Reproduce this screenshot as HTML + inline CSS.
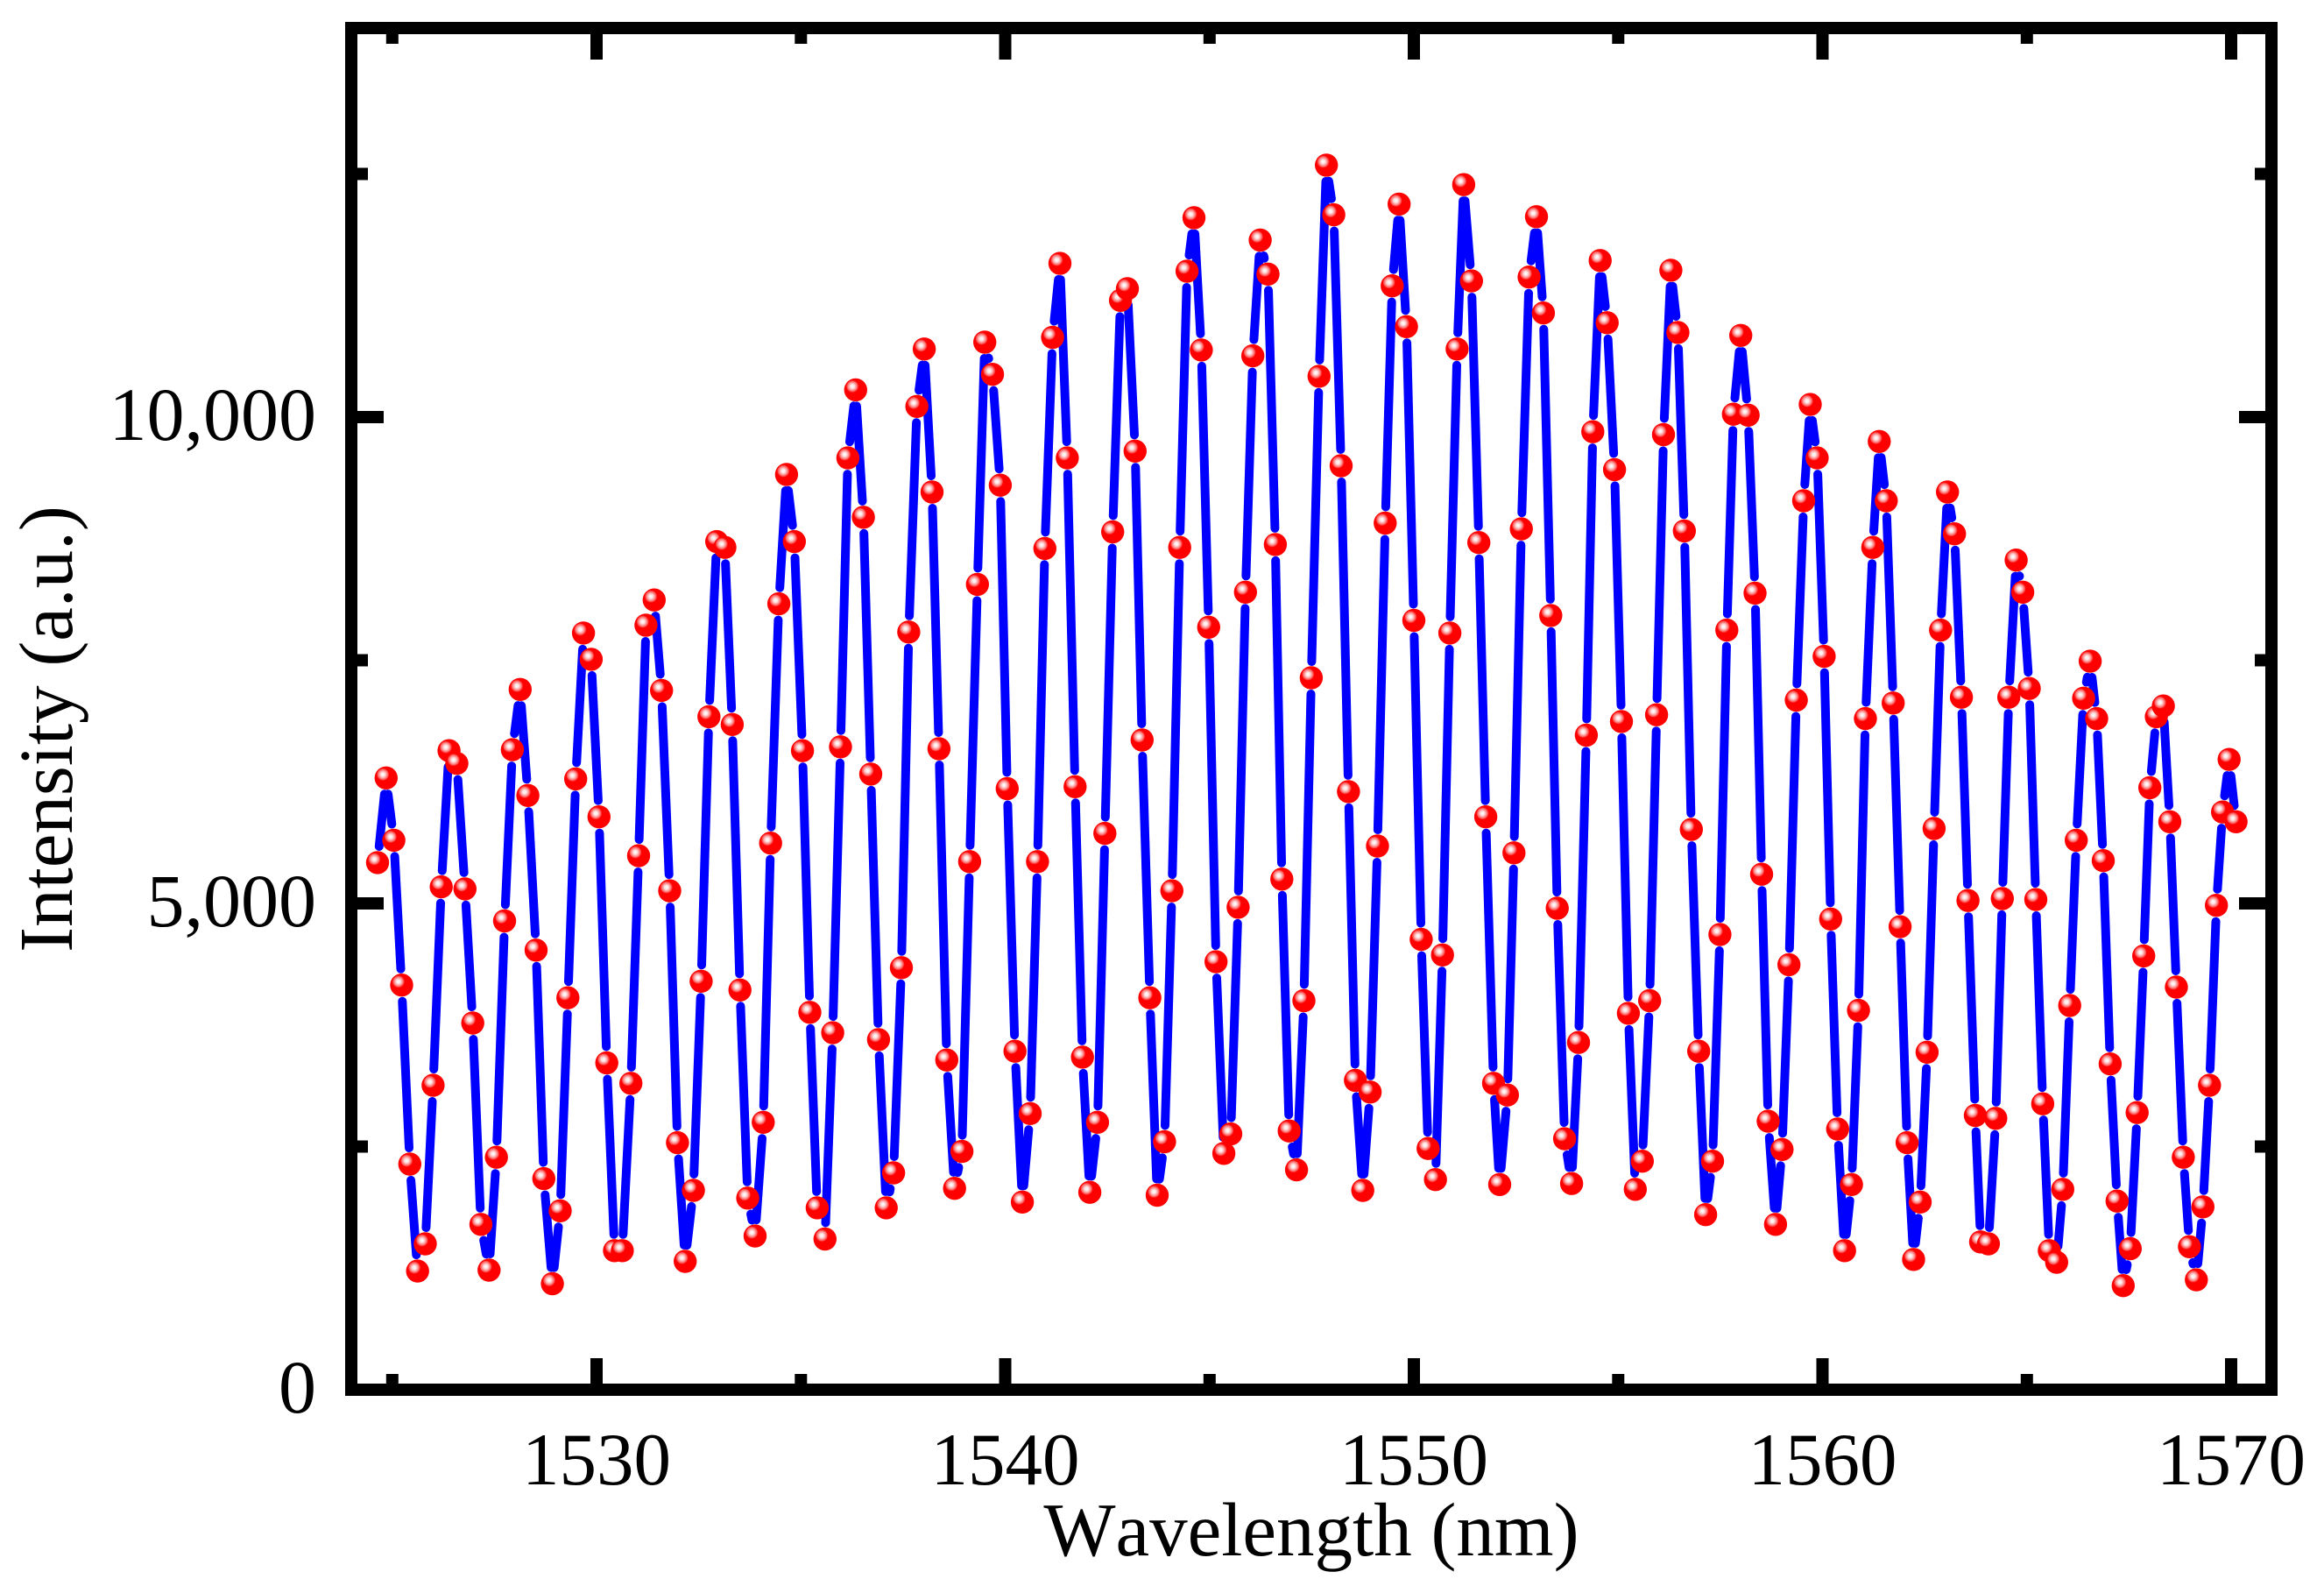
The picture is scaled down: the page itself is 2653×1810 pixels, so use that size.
<!DOCTYPE html>
<html>
<head>
<meta charset="utf-8">
<title>Intensity vs Wavelength</title>
<style>
html,body{margin:0;padding:0;background:#fff;}
svg{display:block;}
text{font-family:"Liberation Serif","Times New Roman",serif;fill:#000;font-kerning:none;}
</style>
</head>
<body>
<svg id="chart" xmlns="http://www.w3.org/2000/svg" width="2653" height="1810" viewBox="0 0 2653 1810">
<defs>
<radialGradient id="ball" cx="0.36" cy="0.35" r="0.27" fx="0.36" fy="0.35">
<stop offset="0" stop-color="#ffffff"/>
<stop offset="0.3" stop-color="#ffe6e6"/>
<stop offset="0.6" stop-color="#ff9999"/>
<stop offset="0.85" stop-color="#ff5050"/>
<stop offset="1" stop-color="#ff0000"/>
</radialGradient>
</defs>
<rect x="0" y="0" width="2653" height="1810" fill="#ffffff"/>
<g id="series"></g>
<g id="axes"></g>
<text x="1497" y="1775" font-size="87" text-anchor="middle">Wavelength (nm)</text>
<text transform="translate(82,832) rotate(-90)" font-size="87" text-anchor="middle">Intensity (a.u.)</text>
</svg>
<script>
const wavelengths = [1524.64,1524.85,1525.04,1525.23,1525.43,1525.62,1525.81,1526.00,1526.20,1526.39,1526.58,1526.78,1526.97,1527.17,1527.37,1527.55,1527.75,1527.94,1528.13,1528.32,1528.52,1528.71,1528.92,1529.11,1529.30,1529.49,1529.68,1529.87,1530.06,1530.25,1530.44,1530.63,1530.84,1531.03,1531.21,1531.41,1531.59,1531.79,1531.98,1532.17,1532.37,1532.56,1532.75,1532.94,1533.14,1533.32,1533.51,1533.70,1533.88,1534.08,1534.26,1534.46,1534.65,1534.84,1535.04,1535.22,1535.40,1535.59,1535.78,1535.97,1536.15,1536.34,1536.53,1536.71,1536.90,1537.09,1537.27,1537.46,1537.64,1537.84,1538.02,1538.21,1538.38,1538.57,1538.76,1538.94,1539.13,1539.32,1539.50,1539.69,1539.88,1540.05,1540.24,1540.42,1540.61,1540.79,1540.97,1541.16,1541.34,1541.52,1541.71,1541.89,1542.07,1542.26,1542.44,1542.63,1542.82,1542.99,1543.18,1543.35,1543.54,1543.72,1543.90,1544.08,1544.27,1544.45,1544.62,1544.80,1544.98,1545.16,1545.35,1545.52,1545.70,1545.88,1546.06,1546.24,1546.43,1546.61,1546.77,1546.95,1547.13,1547.31,1547.49,1547.68,1547.86,1548.04,1548.22,1548.40,1548.57,1548.75,1548.93,1549.11,1549.30,1549.47,1549.64,1549.82,1550.00,1550.18,1550.35,1550.53,1550.70,1550.88,1551.06,1551.22,1551.41,1551.59,1551.76,1551.95,1552.10,1552.29,1552.45,1552.63,1552.82,1553.00,1553.17,1553.35,1553.51,1553.69,1553.86,1554.03,1554.22,1554.38,1554.56,1554.73,1554.91,1555.08,1555.25,1555.42,1555.59,1555.77,1555.94,1556.11,1556.29,1556.46,1556.62,1556.79,1556.97,1557.14,1557.31,1557.49,1557.66,1557.82,1558.00,1558.18,1558.35,1558.51,1558.67,1558.85,1559.01,1559.18,1559.36,1559.54,1559.70,1559.87,1560.04,1560.20,1560.37,1560.54,1560.71,1560.88,1561.05,1561.23,1561.39,1561.56,1561.73,1561.90,1562.07,1562.23,1562.39,1562.56,1562.73,1562.89,1563.06,1563.23,1563.40,1563.56,1563.74,1563.87,1564.06,1564.24,1564.40,1564.56,1564.74,1564.90,1565.06,1565.22,1565.39,1565.55,1565.73,1565.88,1566.05,1566.21,1566.39,1566.55,1566.71,1566.87,1567.04,1567.21,1567.36,1567.53,1567.70,1567.86,1568.01,1568.17,1568.34,1568.50,1568.66,1568.83,1568.98,1569.15,1569.31,1569.47,1569.64,1569.79,1569.95,1570.12];
const intensities = [5420,6290,5650,4160,2320,1220,1500,3130,5170,6570,6440,5150,3770,1700,1230,2390,4820,6580,7200,6110,4520,2170,1090,1840,4030,6280,7780,7510,5890,3360,1430,1430,3150,5490,7860,8120,7190,5130,2540,1320,2050,4200,6920,8720,8660,6840,4110,1970,1580,2750,5620,8080,9410,8720,6570,3880,1870,1550,3670,6610,9580,10280,8970,6330,3600,1870,2230,4340,7790,10110,10700,9230,6590,3390,2070,2450,5430,8280,10770,10440,9300,6180,3480,1930,2840,5430,8650,10820,11580,9580,6200,3420,2030,2750,5720,8820,11200,11320,9650,6680,4030,2000,2550,5130,8660,11500,12050,10690,7840,4400,2430,2630,4960,8200,10630,11820,11470,8690,5250,2660,2260,4000,7320,10420,12590,12080,9500,6150,3180,2050,3060,5590,8910,11350,12190,10930,7910,4630,2480,2160,4470,7780,10700,12390,11400,8710,5890,3150,2110,3030,5520,8850,11440,12060,11070,7960,4950,2580,2120,3570,6730,9850,11610,10970,9460,6870,3870,2060,2350,4000,6940,9820,11510,10870,8830,5760,3480,1800,2350,4680,7810,10030,10840,10020,8190,5300,2760,1700,2470,4370,7090,9140,10130,9580,7540,4840,2680,1430,2110,3900,6900,8660,9750,9140,7060,4760,2540,1340,1930,3470,5770,7810,9230,8800,7120,5030,2820,1520,1500,2790,5050,7120,8530,8200,7210,5040,2940,1430,1310,2060,3950,5650,7110,7490,6900,5440,3350,1940,1070,1450,2850,4460,6190,6920,7030,5840,4140,2390,1470,1130,1880,3130,4980,5940,6480,5840];

const xMajorTicks = [1530,1540,1550,1560,1570];
const xMinorTicks = [1525,1535,1545,1555,1565];
const yMajorTicks = [5000,10000];
const yMinorTicks = [2500,7500,12500];
const yTickLabels = [[0,"0"],[5000,"5,000"],[10000,"10,000"]];

const SVGNS = "http://www.w3.org/2000/svg";
const frameLeft = 401, frameRight = 2593, frameTop = 32, frameBottom = 1586;
function xScale(v){ return 681 + (v - 1530) * 46.65; }
function yScale(v){ return 1586 - v * 0.111; }

const axes = document.getElementById('axes');
const series = document.getElementById('series');

function mk(tag, attrs){
  const el = document.createElementNS(SVGNS, tag);
  for (const k in attrs) el.setAttribute(k, attrs[k]);
  return el;
}

/* line with gaps around each marker */
const markerRadius = 13.2;
const lineTrim = 18.5;
let d = "";
for (let i = 0; i < wavelengths.length - 1; i++) {
  const x1 = xScale(wavelengths[i]), y1 = yScale(intensities[i]);
  const x2 = xScale(wavelengths[i+1]), y2 = yScale(intensities[i+1]);
  const len = Math.hypot(x2 - x1, y2 - y1);
  if (len <= lineTrim * 2) continue;
  const ux = (x2 - x1) / len, uy = (y2 - y1) / len;
  d += "M" + (x1 + ux * lineTrim).toFixed(1) + " " + (y1 + uy * lineTrim).toFixed(1) +
       "L" + (x2 - ux * lineTrim).toFixed(1) + " " + (y2 - uy * lineTrim).toFixed(1);
}
const linePath = mk('path', {d: d, fill: 'none', stroke: '#0000ff', 'stroke-width': 10, 'stroke-linecap': 'round'});


series.appendChild(linePath);

for (let i = 0; i < wavelengths.length; i++) {
  const c = mk('circle', {cx: xScale(wavelengths[i]).toFixed(1), cy: yScale(intensities[i]).toFixed(1), r: markerRadius, fill: 'url(#ball)'});
  
  
  series.appendChild(c);
}

/* frame */
const frame = mk('rect', {x: frameLeft, y: frameTop, width: frameRight - frameLeft, height: frameBottom - frameTop, fill: 'none', stroke: '#000', 'stroke-width': 14});


axes.appendChild(frame);

/* ticks */
const inBottom = frameBottom - 7, inTop = frameTop + 7, inLeft = frameLeft + 7, inRight = frameRight - 7;
function xTick(v, len, name){
  const x = xScale(v);
  const b = mk('rect', {x: (x - 7).toFixed(1), y: inBottom - len, width: 14, height: len, fill: '#000'});
  
  
  axes.appendChild(b);
  const t = mk('rect', {x: (x - 7).toFixed(1), y: inTop, width: 14, height: len, fill: '#000'});
  
  
  axes.appendChild(t);
}
function yTick(v, len, name){
  const y = yScale(v);
  const l = mk('rect', {x: inLeft, y: (y - 7).toFixed(1), width: len, height: 14, fill: '#000'});
  
  
  axes.appendChild(l);
  const r = mk('rect', {x: inRight - len, y: (y - 7).toFixed(1), width: len, height: 14, fill: '#000'});
  
  
  axes.appendChild(r);
}
xMajorTicks.forEach(v => xTick(v, 29, 'x-major-tick'));
xMinorTicks.forEach(v => xTick(v, 11, 'x-minor-tick'));
yMajorTicks.forEach(v => yTick(v, 30, 'y-major-tick'));
yMinorTicks.forEach(v => yTick(v, 12, 'y-minor-tick'));

/* tick labels */
xMajorTicks.forEach(v => {
  const t = mk('text', {x: xScale(v).toFixed(1), y: 1694, 'font-size': 85, 'text-anchor': 'middle'});
  t.textContent = String(v);
  
  
  axes.appendChild(t);
});
yTickLabels.forEach(p => {
  const t = mk('text', {x: 361, y: (yScale(p[0]) + 26).toFixed(1), 'font-size': 86, 'text-anchor': 'end'});
  t.textContent = p[1];
  
  
  axes.appendChild(t);
});
</script>
</body>
</html>
